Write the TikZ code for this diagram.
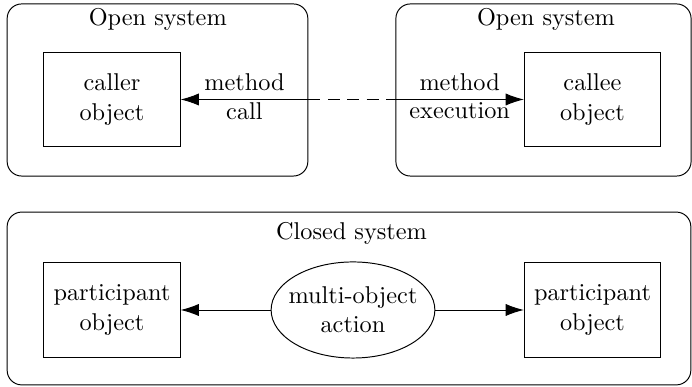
\documentclass[tikz,border=0pt]{standalone}
\usetikzlibrary{arrows.meta, positioning, shapes.geometric}
\tikzset{
	>={Latex[length=7.5pt,width=5pt]}, % punta de flecha rellena
	system/.style={draw, rounded corners=6pt, minimum width=4.35cm, minimum height=2.49cm}, % marco del sistema
	object/.style={draw, align=center, minimum width=1.97cm, minimum height=1.37cm}, % objeto
	action/.style={draw, ellipse, align=center, inner xsep=-2.7pt, inner ysep=0pt, minimum height=1.39cm}, % accion comun
	under/.style={below, inner ysep=1.2pt} % texto bajo la flecha
}

\begin{document}
\begin{tikzpicture}[x=0.01446cm, y=-0.01446cm]
	\useasboundingbox (0,0) rectangle (692,387);
	\node[system] (openL) at (157.5,90) {};
	\node[system, minimum width=4.27cm] (openR) at (543.5,90) {};
	\node[system, minimum width=9.89cm, minimum height=2.50cm] (closed) at (349,298.5) {};
	\node (titleL) at (157.8,19) {Open system};
	\node (titleR) at (546,19) {Open system};
	\node (titleC) at (351.5,233) {Closed system};
	\node[object] (caller) at (112,99.5) {caller\\object};
	\node[object] (callee) at (592.5,99.5) {callee\\object};
	\node[object] (partL) at (112,310) {participant\\object};
	\node[object] (partR) at (592.5,310) {participant\\object};
	\node[action] (act) at (353,310) {multi-object\\action};
	\coordinate (portL) at (openL.east |- caller);
	\coordinate (portR) at (openR.west |- callee);
	\draw	(portL) edge[->] node[above]{method} node[under]{call} (caller)
			(portL) edge[dash pattern=on 5pt off 3pt] (portR)
			(portR) edge[->] node[above]{method} node[under]{execution} (callee)
			(act) edge[->] (partL)
			(act) edge[->] (partR);
\end{tikzpicture}
\end{document}
